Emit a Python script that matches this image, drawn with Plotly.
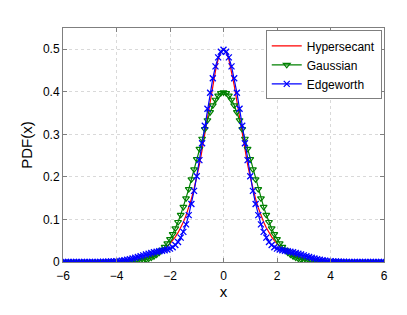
import plotly.graph_objects as go

x_vals = [round(-6 + 0.1 * i, 1) for i in range(121)]

hypersecant = [
    0.0001, 0.0001, 0.0001, 0.0001, 0.0001, 0.0002, 0.0002, 0.0002, 0.0003, 0.0003,
    0.0004, 0.0005, 0.0005, 0.0006, 0.0007, 0.0009, 0.0010, 0.0012, 0.0014, 0.0016,
    0.0019, 0.0022, 0.0026, 0.0030, 0.0035, 0.0041, 0.0048, 0.0056, 0.0066, 0.0077,
    0.0090, 0.0105, 0.0123, 0.0144, 0.0168, 0.0197, 0.0231, 0.0270, 0.0316, 0.0369,
    0.0431, 0.0504, 0.0590, 0.0689, 0.0805, 0.0939, 0.1096, 0.1276, 0.1484, 0.1722,
    0.1993, 0.2296, 0.2633, 0.2997, 0.3383, 0.3775, 0.4153, 0.4492, 0.4763, 0.4939,
    0.5000,
    0.4939, 0.4763, 0.4492, 0.4153, 0.3775, 0.3383, 0.2997, 0.2633, 0.2296, 0.1993,
    0.1722, 0.1484, 0.1276, 0.1096, 0.0939, 0.0805, 0.0689, 0.0590, 0.0504, 0.0431,
    0.0369, 0.0316, 0.0270, 0.0231, 0.0197, 0.0168, 0.0144, 0.0123, 0.0105, 0.0090,
    0.0077, 0.0066, 0.0056, 0.0048, 0.0041, 0.0035, 0.0030, 0.0026, 0.0022, 0.0019,
    0.0016, 0.0014, 0.0012, 0.0010, 0.0009, 0.0007, 0.0006, 0.0005, 0.0005, 0.0004,
    0.0003, 0.0003, 0.0002, 0.0002, 0.0002, 0.0001, 0.0001, 0.0001, 0.0001, 0.0001,
]

gaussian = [
    0, 0, 0, 0, 0, 0, 0, 0, 0, 0, 0, 0, 0, 0, 0, 0, 0, 0,
    0.0001, 0.0001, 0.0001, 0.0002, 0.0003, 0.0004, 0.0006, 0.0009, 0.0012, 0.0017,
    0.0024, 0.0033, 0.0044, 0.0060, 0.0079, 0.0104, 0.0136, 0.0175, 0.0224, 0.0283,
    0.0355, 0.0440, 0.0540, 0.0656, 0.0790, 0.0940, 0.1109, 0.1295, 0.1497, 0.1714,
    0.1942, 0.2179, 0.2420, 0.2661, 0.2897, 0.3123, 0.3332, 0.3521, 0.3683, 0.3814,
    0.3910, 0.3970,
    0.3989,
    0.3970, 0.3910, 0.3814, 0.3683, 0.3521, 0.3332, 0.3123, 0.2897, 0.2661, 0.2420,
    0.2179, 0.1942, 0.1714, 0.1497, 0.1295, 0.1109, 0.0940, 0.0790, 0.0656, 0.0540,
    0.0440, 0.0355, 0.0283, 0.0224, 0.0175, 0.0136, 0.0104, 0.0079, 0.0060, 0.0044,
    0.0033, 0.0024, 0.0017, 0.0012, 0.0009, 0.0006, 0.0004, 0.0003, 0.0002, 0.0001,
    0.0001, 0.0001,
    0, 0, 0, 0, 0, 0, 0, 0, 0, 0, 0, 0, 0, 0, 0, 0, 0, 0,
]

edgeworth = [
    0, 0, 0, 0, 0, 0, 0, 0, 0, 0,
    0.0001, 0.0001, 0.0001, 0.0002, 0.0003, 0.0004, 0.0006, 0.0008, 0.0011, 0.0015,
    0.0020, 0.0026, 0.0033, 0.0043, 0.0054, 0.0067, 0.0081, 0.0098, 0.0116, 0.0135,
    0.0155, 0.0175, 0.0194, 0.0212, 0.0228, 0.0242, 0.0254, 0.0265, 0.0277, 0.0293,
    0.0315, 0.0348, 0.0399, 0.0471, 0.0573, 0.0708, 0.0884, 0.1102, 0.1365, 0.1671,
    0.2016, 0.2394, 0.2793, 0.3201, 0.3601, 0.3979, 0.4317, 0.4598, 0.4810, 0.4942,
    0.4987,
    0.4942, 0.4810, 0.4598, 0.4317, 0.3979, 0.3601, 0.3201, 0.2793, 0.2394, 0.2016,
    0.1671, 0.1365, 0.1102, 0.0884, 0.0708, 0.0573, 0.0471, 0.0399, 0.0348, 0.0315,
    0.0293, 0.0277, 0.0265, 0.0254, 0.0242, 0.0228, 0.0212, 0.0194, 0.0175, 0.0155,
    0.0135, 0.0116, 0.0098, 0.0081, 0.0067, 0.0054, 0.0043, 0.0033, 0.0026, 0.0020,
    0.0015, 0.0011, 0.0008, 0.0006, 0.0004, 0.0003, 0.0002, 0.0001, 0.0001, 0.0001,
    0, 0, 0, 0, 0, 0, 0, 0, 0, 0,
]

x_ticks = [-6, -4, -2, 0, 2, 4, 6]
y_ticks = [0, 0.1, 0.2, 0.3, 0.4, 0.5]
y_tick_text = ["0", "0.1", "0.2", "0.3", "0.4", "0.5"]

assert len(hypersecant) == len(gaussian) == len(edgeworth) == len(x_vals)

font = "Liberation Sans, Arial, Helvetica, sans-serif"

fig = go.Figure()
fig.add_trace(go.Scatter(
    x=x_vals, y=hypersecant, mode="lines", name="Hypersecant",
    line=dict(color="rgb(255,0,0)", width=1.2),
))
fig.add_trace(go.Scatter(
    x=x_vals, y=gaussian, mode="lines+markers", name="Gaussian",
    line=dict(color="rgb(0,128,0)", width=1.2),
    marker=dict(symbol="triangle-down-open", size=6, color="rgb(0,128,0)",
                line=dict(width=1.2, color="rgb(0,128,0)")),
))
fig.add_trace(go.Scatter(
    x=x_vals, y=edgeworth, mode="lines+markers", name="Edgeworth",
    line=dict(color="rgb(0,0,255)", width=1.2),
    marker=dict(symbol="x-thin-open", size=6, color="rgb(0,0,255)",
                line=dict(width=1.3, color="rgb(0,0,255)")),
))

axis_common = dict(
    showline=True, linecolor="#7f7f7f", linewidth=1, mirror="ticks",
    ticks="inside", ticklen=4, tickcolor="#7f7f7f",
    showgrid=True, gridcolor="#d9d9d9", griddash="dot", gridwidth=1,
    zeroline=False, automargin=False,
    tickfont=dict(family=font, size=12, color="black"),
)

fig.update_xaxes(
    range=[-6, 6], tickvals=x_ticks, ticklabelstandoff=3, **axis_common,
    title=dict(text="x", font=dict(family=font, size=15, color="black"), standoff=0),
)
fig.update_yaxes(
    range=[0, 0.55], tickvals=y_ticks, ticktext=y_tick_text, **axis_common,
    title=dict(text="PDF(x)", font=dict(family=font, size=15, color="black"), standoff=6),
)

fig.update_layout(
    width=399, height=307,
    margin=dict(l=55, r=23, t=20, b=53),
    paper_bgcolor="white", plot_bgcolor="white",
    font=dict(family=font, size=12, color="black"),
    legend=dict(
        x=0.993, y=0.99, xanchor="right", yanchor="top",
        bgcolor="white", bordercolor="#7f7f7f", borderwidth=1,
        font=dict(family=font, size=12, color="black"),
        tracegroupgap=0, itemwidth=30,
    ),
    showlegend=True,
)

fig.write_html("out.html")
